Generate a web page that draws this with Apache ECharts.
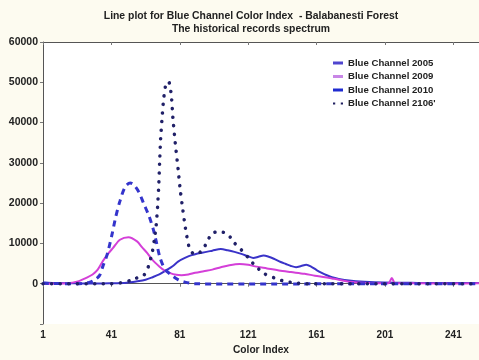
<!DOCTYPE html>
<html>
<head>
<meta charset="utf-8">
<script src="https://cdn.jsdelivr.net/npm/echarts@6/dist/echarts.min.js"></script>
<style>
html,body{margin:0;padding:0;background:#fdfbf0;}
#c{width:479px;height:360px;}
</style>
</head>
<body>
<div id="c"></div>
<script>
var titleText = "Line plot for Blue Channel Color Index  - Balabanesti Forest";
var subTitleText = "The historical records spectrum";
var xName = "Color Index";
var seriesNames = ["Blue Channel 2005", "Blue Channel 2009", "Blue Channel 2010", "Blue Channel 2106'"];

var x2005 = [1,10,20,30,40,50,56,61,65,69,73,77,80,84,88,94,100,105,109,113,117,121,124,127,130,133,136,140,143,146,149,152,155,158,161,164,167,170,174,180,189,200,220,240,256];
var y2005 = [300,150,100,50,100,250,600,1000,1600,2300,3300,4400,5500,6400,7100,7700,8200,8600,8300,7900,7400,6800,6400,6700,7000,6700,6200,5400,4900,4400,4100,4400,4700,4200,3400,2700,2100,1600,1200,800,500,300,200,150,200];

var x2009 = [1,15,22,26,30,33,36,39,42,46,51,56,59,62,65,69,72,75,79,82,86,90,95,100,105,110,116,121,125,132,139,146,154,160,166,170,174,180,190,203,205,207,220,240,256];
var y2009 = [0,100,650,1400,2300,3500,5600,7400,8900,10900,11550,10500,9000,7600,5900,4300,3300,2700,2200,2100,2300,2700,3100,3500,4100,4600,4900,4700,4300,3800,3300,2900,2460,2000,1600,1300,1000,500,200,100,1400,100,100,50,100];

var x2010 = [1,20,28,31,34,36,38.5,41.5,43.5,46,49,52,54,57,60,63,65.5,67,69.5,72.5,76,80,84,90,120,180,256];
var y2010 = [100,0,300,900,2000,4300,7200,12500,16500,20500,24000,25000,24600,22800,19800,16800,13500,10900,6400,3500,2200,1000,400,0,-100,0,0];

var x2106 = [1,40,48,52,55,58,60,62,63.5,65,66.3,67.2,68,68.7,69.2,69.8,70.7,71.6,72.8,74.5,76,77,78.5,80,81.4,82.8,84.3,86.3,88.5,91,94,97,99.5,104,109,113,117,121,125,130.6,136,141.7,148,155,256];
var y2106 = [0,0,300,800,1300,1700,2100,3500,5500,8000,11500,14500,19000,24400,30000,36000,41500,46000,49300,50200,47000,41000,34300,28500,22800,18300,13800,9300,7600,7300,8300,10300,12400,13000,12300,10100,8400,6500,4500,2460,1500,660,200,0,0];

var xTicks = {min: 1, max: 256, interval: 40};
var yTicks = {min: -10000, max: 60000, interval: 10000};

function pairs(xs, ys){ return xs.map(function(x,i){ return [x, ys[i]]; }); }

var chart = echarts.init(document.getElementById('c'), null, {renderer:'canvas'});
var fam = 'Liberation Sans, Arial, sans-serif';
var lblStyle = {color:'#222', fontFamily:fam, fontWeight:'bold', fontSize:10};
chart.setOption({
  backgroundColor: '#fdfbf0',
  animation: false,
  title: {
    text: titleText + "\n" + subTitleText,
    left: 246, top: 5, textAlign: 'center',
    textStyle: {color:'#222', fontFamily:fam, fontWeight:'bold', fontSize:10.4, lineHeight:12.5}
  },
  legend: {
    orient: 'vertical', left: 328, top: 53,
    itemWidth: 10, itemHeight: 3, itemGap: 3.5, itemTextGap: 10,
    textStyle: {color:'#222', fontFamily:fam, fontWeight:'bold', fontSize:9.6, lineHeight:10},
    data: [
      {name: seriesNames[0], icon: 'rect', itemStyle:{color:'#4f45cf'}, lineStyle:{type:'solid', width:3, color:'#4f45cf'}},
      {name: seriesNames[1], icon: 'rect', itemStyle:{color:'#c886e6'}, lineStyle:{type:'solid', width:3, color:'#c886e6'}},
      {name: seriesNames[2], icon: 'rect', itemStyle:{color:'#1f2bd0'}, lineStyle:{type:'solid', width:3, color:'#1f2bd0'}},
      {name: seriesNames[3], icon: 'path://M0,0h2v2h-2zM7,0h2v2h-2z', itemStyle:{color:'#202060'}, lineStyle:{width:0, opacity:0}}
    ]
  },
  grid: {left: 43, top: 42, right: -2, bottom: 33, show: true, backgroundColor: '#ffffff', borderWidth: 0},
  xAxis: [{
    type: 'value', min: xTicks.min, max: xTicks.max, interval: xTicks.interval,
    name: xName, nameLocation: 'middle', nameGap: 21,
    nameTextStyle: {color:'#222', fontFamily:fam, fontWeight:'bold', fontSize:10.2},
    axisLine: {show:true, lineStyle:{color:'#555', width:1}},
    axisTick: {show:true, length:3, lineStyle:{color:'#777'}},
    axisLabel: Object.assign({margin:6, showMaxLabel:false}, lblStyle),
    splitLine: {show:false}
  },{
    type: 'value', position: 'top', min: xTicks.min, max: xTicks.max, interval: xTicks.interval,
    axisLine: {show:true, lineStyle:{color:'#555', width:1}},
    axisTick: {show:true, inside:true, length:3, lineStyle:{color:'#777'}},
    axisLabel: {show:false},
    splitLine: {show:false}
  }],
  yAxis: {
    type: 'value', min: yTicks.min, max: yTicks.max, interval: yTicks.interval,
    axisLine: {show:true, lineStyle:{color:'#555', width:1}},
    axisTick: {show:true, length:3, lineStyle:{color:'#777'}},
    axisLabel: Object.assign({margin:5, formatter: function(v){ return v < 0 ? '' : String(v); }}, lblStyle, {fontSize:10.5}),
    splitLine: {show:false}
  },
  series: [
    {name: seriesNames[0], type:'line', data: pairs(x2005, y2005), smooth: 0.3, showSymbol:false,
     itemStyle:{color:'#4f45cf'}, lineStyle:{color:'#3a33c8', width:2}},
    {name: seriesNames[1], type:'line', data: pairs(x2009, y2009), smooth: 0.3, showSymbol:false,
     itemStyle:{color:'#c886e6'}, lineStyle:{color:'#d43fd8', width:2}},
    {name: seriesNames[2], type:'line', data: pairs(x2010, y2010), smooth: 0.3, showSymbol:false,
     itemStyle:{color:'#1f2bd0'}, lineStyle:{color:'#3434cc', width:3, type:[6,5]}},
    {name: seriesNames[3], type:'line', data: pairs(x2106, y2106), smooth: 0.2, showSymbol:false,
     itemStyle:{color:'#202060'}, lineStyle:{color:'#202068', width:3.5, type:[0.1,8.5], cap:'round'}}
  ]
});
</script>
</body>
</html>
